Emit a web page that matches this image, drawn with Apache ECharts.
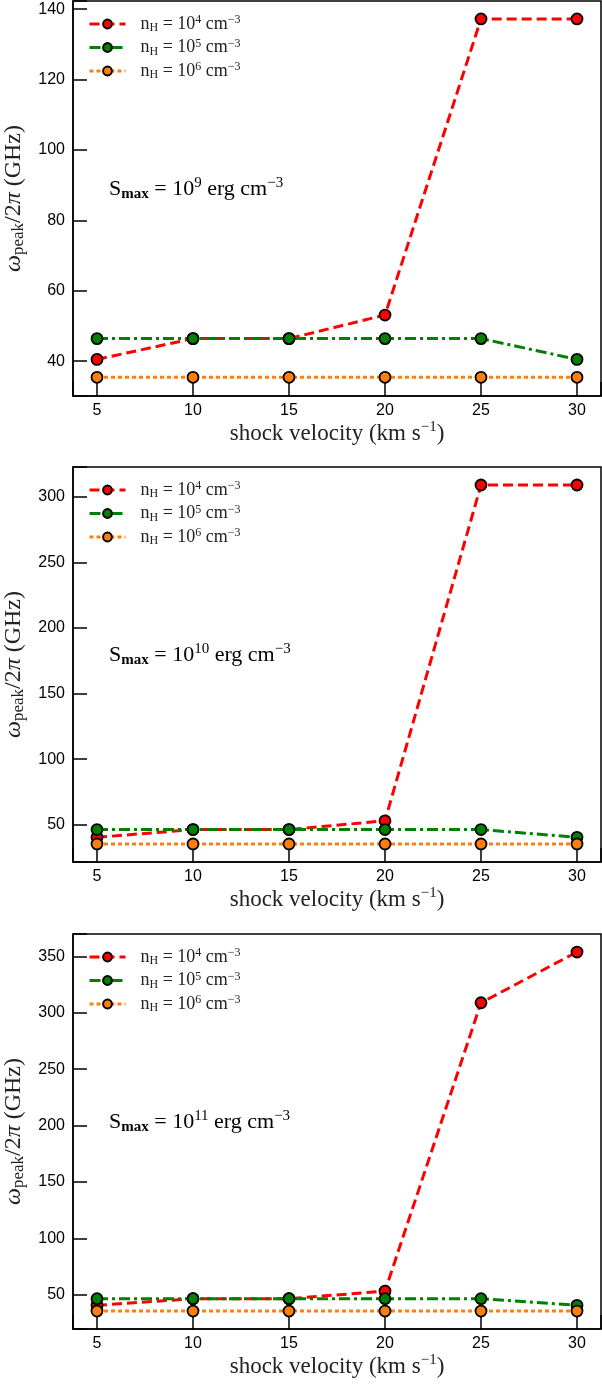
<!DOCTYPE html>
<html>
<head>
<meta charset="utf-8">
<script src="https://cdn.jsdelivr.net/npm/echarts@6/dist/echarts.min.js"></script>
<style>
html,body{margin:0;padding:0;background:#fff;}
#chart{width:602px;height:1384px;}
</style>
</head>
<body>
<div id="chart"></div>
<script>
// ---- data ----
const velocities = [5, 10, 15, 20, 25, 30];
const seriesNames = ['nH4', 'nH5', 'nH6'];
const nHExponents = ['4', '5', '6'];
const smaxExponents = ['9', '10', '11'];
// panel 1 (Smax = 1e9)
const red1 = [40.5, 46.4, 46.4, 53.1, 137.2, 137.2];
const green1 = [46.4, 46.4, 46.4, 46.4, 46.4, 40.5];
const orange1 = [35.4, 35.4, 35.4, 35.4, 35.4, 35.4];
// panel 2 (Smax = 1e10)
const red2 = [40.5, 46.4, 46.4, 53.1, 309, 309];
const green2 = [46.4, 46.4, 46.4, 46.4, 46.4, 40.5];
const orange2 = [35.4, 35.4, 35.4, 35.4, 35.4, 35.4];
// panel 3 (Smax = 1e11)
const red3 = [40.5, 46.4, 46.4, 53.1, 309, 354];
const green3 = [46.4, 46.4, 46.4, 46.4, 46.4, 40.5];
const orange3 = [35.4, 35.4, 35.4, 35.4, 35.4, 35.4];
// axis ranges / tick steps
const xRange = [3.75, 31.25];
const xStep = 5;
const yRanges = [[30.1, 142.3], [21.7, 322.7], [19.5, 370]];
const ySteps = [20, 50, 50];
const ySplits = [5, 5, 7];

const panels = [
  [red1, green1, orange1],
  [red2, green2, orange2],
  [red3, green3, orange3]
];

const colors = ['#ff0000', '#008000', '#ff7f0e'];
const dashes = [[10, 5], [11, 4, 3, 4], [4, 3]];
const gridTops = [1, 467, 934];
const gridH = 395;

const serif = 'Liberation Serif';
const sans = 'Liberation Sans';

const chart = echarts.init(document.getElementById('chart'), null, {renderer: 'canvas'});

const grids = [], xAxes = [], yAxes = [], series = [], legends = [], titles = [];

const legendRich = {
  n: {fontFamily: serif, fontSize: 18, color: '#222', lineHeight: 20},
  sub: {fontFamily: serif, fontSize: 12, color: '#222', lineHeight: 11, verticalAlign: 'bottom'},
  sup: {fontFamily: serif, fontSize: 12, color: '#222', lineHeight: 11, verticalAlign: 'top'}
};

panels.forEach((p, i) => {
  grids.push({left: 73, right: 1, top: gridTops[i], height: gridH, show: true,
    outerBoundsMode: 'none', containLabel: false,
    borderColor: '#000', borderWidth: 1.5, backgroundColor: 'transparent'});
  const xs = xStep;
  xAxes.push({
    type: 'value', gridIndex: i, min: xRange[0], max: xRange[1], splitNumber: 5,
    axisLine: {show: true, lineStyle: {color: '#000', width: 1.5}},
    axisTick: {show: true, inside: true, length: 14, lineStyle: {color: '#000', width: 1.5}},
    axisLabel: {margin: 7, fontFamily: sans, fontSize: 16, color: '#000',
      formatter: v => (Math.abs(v / xs - Math.round(v / xs)) < 1e-6 ? String(Math.round(v)) : '')},
    splitLine: {show: false},
    name: '{t|shock velocity (km s}{sup|−1}{t|)}',
    nameLocation: 'middle', nameGap: 23,
    nameTextStyle: {rich: {
      t: {fontFamily: serif, fontSize: 23, color: '#222', lineHeight: 28},
      sup: {fontFamily: serif, fontSize: 15, color: '#222', lineHeight: 14, verticalAlign: 'top'}
    }}
  });
  const ys = ySteps[i];
  yAxes.push({
    type: 'value', gridIndex: i, min: yRanges[i][0], max: yRanges[i][1], splitNumber: ySplits[i],
    axisLine: {show: true, lineStyle: {color: '#000', width: 1.5}},
    axisTick: {show: true, inside: true, length: 14, lineStyle: {color: '#000', width: 1.5}},
    axisLabel: {margin: 8, fontFamily: sans, fontSize: 16, color: '#000',
      formatter: v => (Math.abs(v / ys - Math.round(v / ys)) < 1e-6 ? String(Math.round(v)) : '')},
    splitLine: {show: false},
    name: '{w|ω}{sub|peak}{t|/2}{w|π}{t| (GHz)}',
    nameLocation: 'middle', nameGap: 35, nameRotate: 90,
    nameTextStyle: {rich: {
      w: {fontFamily: serif, fontStyle: 'italic', fontSize: 24, color: '#222', lineHeight: 28},
      t: {fontFamily: serif, fontSize: 24, color: '#222', lineHeight: 28},
      sub: {fontFamily: serif, fontSize: 17, color: '#222', lineHeight: 14, verticalAlign: 'bottom'}
    }}
  });
  p.forEach((vals, k) => {
    series.push({
      name: seriesNames[k], type: 'line', xAxisIndex: i, yAxisIndex: i,
      data: velocities.map((x, j) => [x, vals[j]]),
      symbol: 'circle', symbolSize: 11, showSymbol: true,
      lineStyle: {color: colors[k], width: 3, type: dashes[k]},
      itemStyle: {color: colors[k], borderColor: '#000', borderWidth: 1.8},
      emphasis: {disabled: true}, animation: false, z: 2 + k
    });
  });
  legends.push({
    orient: 'vertical', left: 83, top: gridTops[i] + 8, itemGap: 3.5,
    itemWidth: 36, itemHeight: 11,
    data: seriesNames,
    lineStyle: {width: 3},
    formatter: name => '{n|n}{sub|H}{n| = 10}{sup|' + nHExponents[seriesNames.indexOf(name)] + '}{n| cm}{sup|−3}',
    textStyle: {rich: legendRich, padding: [0, 0, 0, 10]},
    selectedMode: false
  });
  titles.push({
    text: '{s|S}{sub|max}{t| = 10}{sup|' + smaxExponents[i] + '}{t| erg cm}{sup|−3}',
    left: 104, top: gridTops[i] + 170,
    textStyle: {fontWeight: 'normal', rich: {
      s: {fontFamily: serif, fontSize: 22, fontWeight: 'normal', color: '#000', lineHeight: 26},
      t: {fontFamily: serif, fontSize: 22, fontWeight: 'normal', color: '#000', lineHeight: 26},
      sub: {fontFamily: serif, fontSize: 15, fontWeight: 'bold', color: '#000', lineHeight: 13, verticalAlign: 'bottom'},
      sup: {fontFamily: serif, fontSize: 15, fontWeight: 'normal', color: '#000', lineHeight: 13, verticalAlign: 'top'}
    }}
  });
});

chart.setOption({
  animation: false,
  backgroundColor: '#fff',
  title: titles,
  legend: legends,
  grid: grids,
  xAxis: xAxes,
  yAxis: yAxes,
  series: series
});
</script>
</body>
</html>
